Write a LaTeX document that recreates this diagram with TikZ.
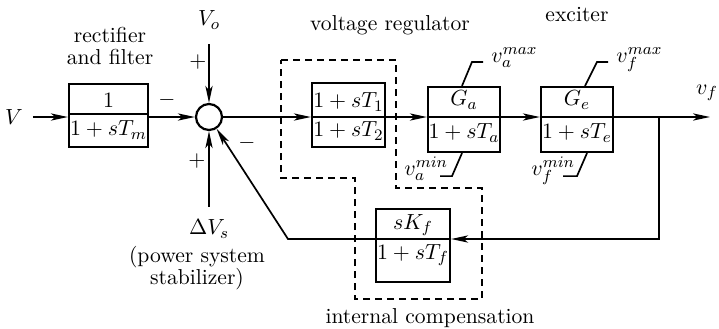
\documentclass[tikz,border=0pt]{standalone}
\usepackage{amsmath}
\usepackage{tikz}
\usetikzlibrary{arrows.meta, positioning, calc}

\begin{document}
\begin{tikzpicture}[
    x=0.5pt, y=-0.5pt,
    every node/.style={font=\fontsize{10.8}{11}\selectfont},
    block/.style={rectangle, draw, line width=1.1pt, inner sep=0pt},
    sumnode/.style={circle, draw, line width=1.1pt, minimum size=13pt, inner sep=0pt},
    sig/.style={-{Stealth[length=8.5pt, width=3.6pt, inset=2.2pt]}, line width=0.85pt},
    wire/.style={line width=0.85pt},
    lbl/.style={align=center},
    lim/.style={anchor=base west, inner sep=0pt},
]
\useasboundingbox (0,0) rectangle (719,328);

% Rectifier and filter
\node (vin) at (14,117) {$V$};
\node[block, minimum width=39.5pt, minimum height=31.5pt] (filt) at (108.5,115.5) {};
\draw[wire] ($(filt.west)+(0,-1.5)$) -- ($(filt.east)+(0,-1.5)$);
\node (filtnum) at (108.5,100) {$1$};
\node (filtden) at (108.5,130) {$1+sT_m$};
\node[lbl] (filtlbl) at (110,46) {rectifier\\and filter};

% Summing point
\node[sumnode] (sum) at (209,117) {};
\node (vo) at (209,20) {$V_o$};
\node (dvs) at (209,229) {$\Delta V_s$};
\node[lbl] (pss) at (197,268) {(power system\\stabilizer)};
\node (plus1) at (198,62) {$+$};
\node (minus1) at (167,100) {$-$};
\node (plus2) at (197,161) {$+$};
\node (minus2) at (247,143) {$-$};

% Voltage regulator
\node[block, minimum width=36.5pt, minimum height=32pt] (reg) at (348.5,115) {};
\draw[wire] ($(reg.west)+(0,2)$) -- ($(reg.east)+(0,2)$);
\node (regnum) at (348.5,102) {$1+sT_1$};
\node (regden) at (348.5,131) {$1+sT_2$};
\node[lbl] (reglbl) at (390,25) {voltage regulator};

\node[block, minimum width=36pt, minimum height=32.5pt] (ga) at (464,119.5) {};
\draw[wire] ($(ga.west)+(0,-2.5)$) -- ($(ga.east)+(0,-2.5)$);
\node (ganum) at (464,100) {$G_a$};
\node (gaden) at (464,133) {$1+sT_a$};

% Exciter
\node[block, minimum width=36pt, minimum height=32.5pt] (ge) at (577,119.5) {};
\draw[wire] ($(ge.west)+(0,-2.5)$) -- ($(ge.east)+(0,-2.5)$);
\node (genum) at (577,100) {$G_e$};
\node (geden) at (577,133) {$1+sT_e$};
\node[lbl] (exclbl) at (577,15) {exciter};

% Limits
\node[lim] (vamax) at (491,62) {$v_a^{max}$};
\node[lim] (vfmax) at (616,62) {$v_f^{max}$};
\node[lim] (vamin) at (404,175) {$v_a^{min}$};
\node[lim] (vfmin) at (531,175) {$v_f^{min}$};
\draw[wire] ($(ga.north)+(-2,0)$) -- ++(10,-24) -- ++(11,0);
\draw[wire] ($(ge.north)+(8,0)$) -- ++(12,-24) -- ++(11,0);
\draw[wire] ($(ga.south)+(-2,0)$) -- ++(-10,23) -- ++(-12,0);
\draw[wire] ($(ge.south)+(10,0)$) -- ++(-10,23) -- ++(-14,0);

% Internal compensation
\node[block, minimum width=37pt, minimum height=36.5pt] (kf) at (413,245.5) {};
\draw[wire] ($(kf.west)+(0,-6.5)$) -- ($(kf.east)+(0,-6.5)$);
\node (kfnum) at (413,225) {$sK_f$};
\node (kfden) at (413,255) {$1+sT_f$};
\node[lbl] (intlbl) at (430,318) {internal compensation};
\draw[wire, dash pattern=on 3.5pt off 2.5pt] (281,60) -- (396,60) -- (396,188) -- (482,188)
    -- (482,299) -- (355,299) -- (355,178) -- (281,178) -- cycle;

% Arrows
\coordinate (tap) at (659,117);
\coordinate (vfend) at (710,117);
\coordinate (fbk) at (288,239);
\node (vf) at (707,93) {$v_f$};
\draw[sig] (vin.east) ++(3,0) -- (filt.west |- sum);
\draw[sig] (filt.east |- sum) -- (sum);
\draw[sig, shorten <=4pt] (vo.south) -- (sum);
\draw[sig, shorten <=3pt] (dvs.north) -- (sum);
\draw[sig] (sum) -- (reg.west |- sum);
\draw[sig] (reg.east |- sum) -- (ga.west |- sum);
\draw[sig] (ga.east |- sum) -- (ge.west |- sum);
\draw[sig] (ge.east |- sum) -- (vfend);
\draw[sig] (tap) |- ($(kf.east)+(0,-6.5)$);
\draw[sig] ($(kf.west)+(0,-6.5)$) -- (fbk) -- (sum);

\end{tikzpicture}
\end{document}
